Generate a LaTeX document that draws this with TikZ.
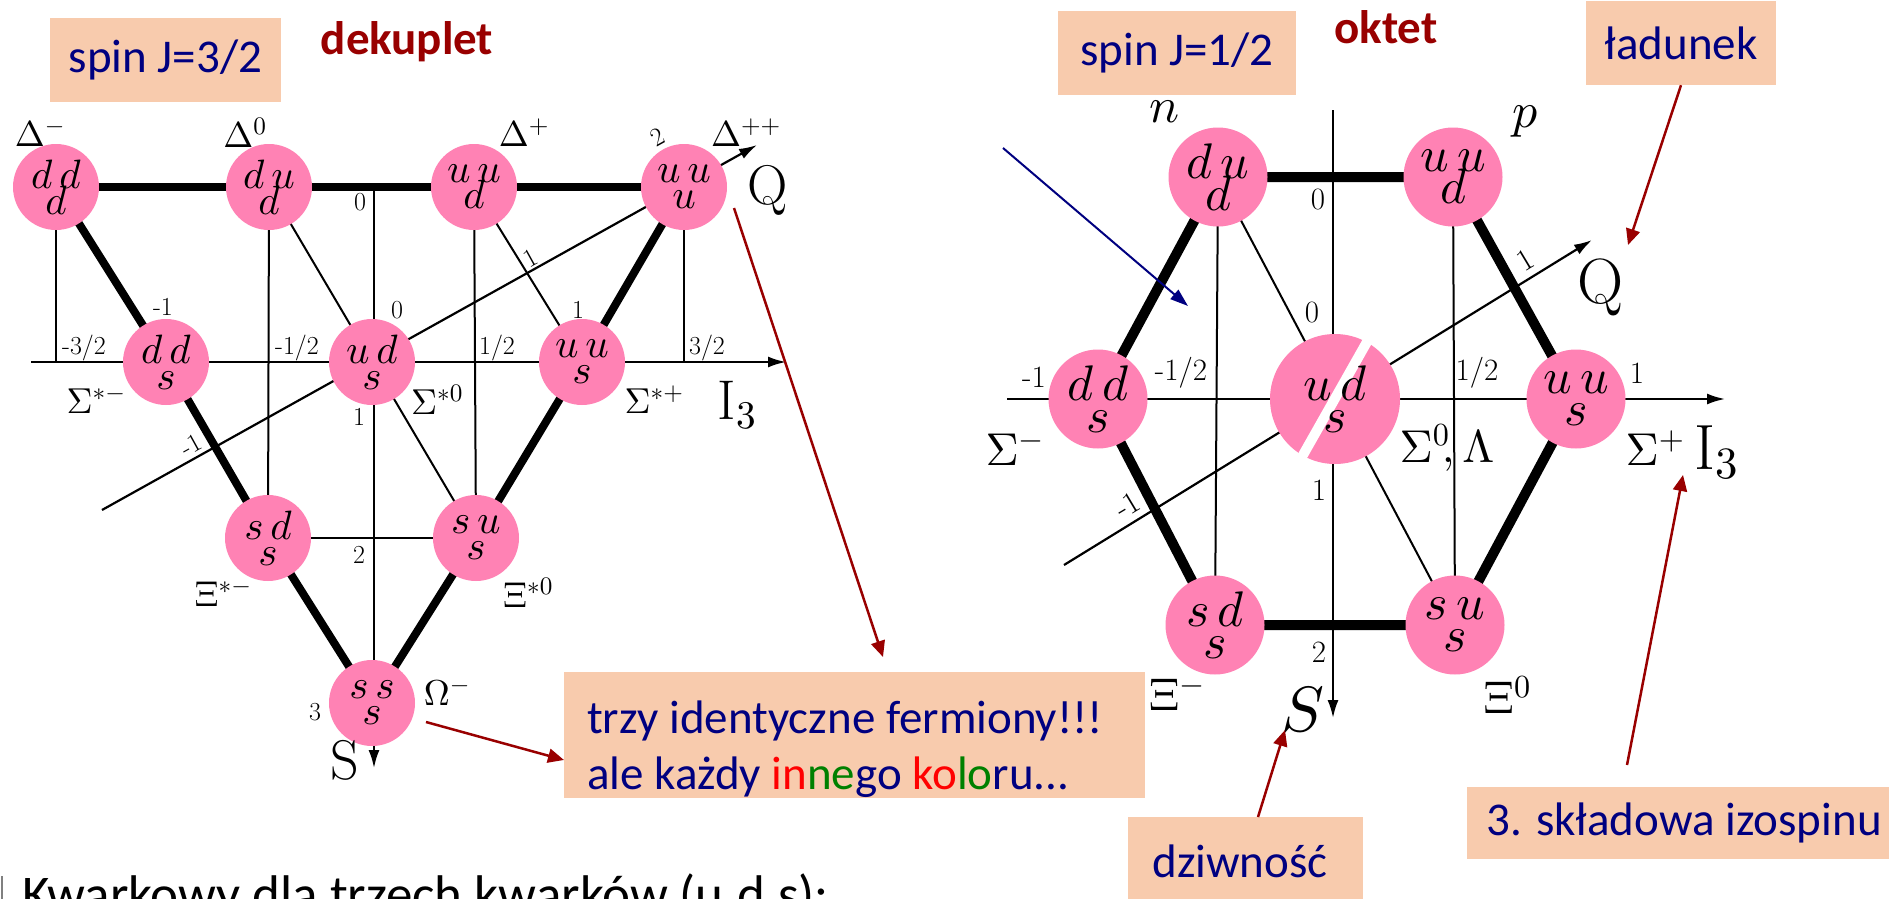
\RequirePackage{fix-cm}
\documentclass[tikz,border=0pt]{standalone}
\usepackage{fontspec}
\DeclareFontFamily{OML}{cmm}{\skewchar\font127 }
\DeclareFontShape{OML}{cmm}{m}{it}{<->cmmi10}{}
\DeclareFontFamily{OT1}{cmr}{\hyphenchar\font45 }
\DeclareFontShape{OT1}{cmr}{m}{n}{<->cmr10}{}
\DeclareFontFamily{OMS}{cmsy}{\skewchar\font48 }
\DeclareFontShape{OMS}{cmsy}{m}{n}{<->cmsy10}{}
\newfontfamily\calib{Carlito}
\usetikzlibrary{arrows.meta}
\definecolor{peach}{HTML}{F8CBAD}
\definecolor{navyt}{HTML}{000080}
\definecolor{dred}{HTML}{990000}
\definecolor{pinkq}{HTML}{FF82B4}
\definecolor{grn}{HTML}{008000}
\pgfdeclarelayer{bg}
\pgfsetlayers{bg,main}
\newcommand\tightlines{\lineskiplimit-50pt\relax}
\begin{document}
\begin{tikzpicture}[x=1pt,y=-1pt,
  dnode/.style={circle, fill=pinkq, minimum size=86pt, inner sep=0pt, align=center,
    font=\fontsize{41}{26}\selectfont\tightlines},
  onode/.style={circle, fill=pinkq, minimum size=99pt, inner sep=0pt, align=center,
    font=\fontsize{50}{32}\selectfont\tightlines},
  thk/.style={line width=8pt},
  othk/.style={line width=10pt},
  thn/.style={line width=2pt},
  ax/.style={line width=2.2pt, -{Latex[length=18pt,width=11pt]}},
  dlab/.style={inner sep=0pt, font=\fontsize{26}{26}\selectfont},
  olab/.style={inner sep=0pt, font=\fontsize{31}{31}\selectfont},
  dname/.style={inner sep=0pt, font=\fontsize{36}{36}\selectfont},
  oname/.style={inner sep=0pt, font=\fontsize{46}{46}\selectfont},
  dbig/.style={inner sep=0pt, font=\fontsize{56}{56}\selectfont},
  obig/.style={inner sep=0pt, font=\fontsize{64}{64}\selectfont},
  box/.style={fill=peach, inner sep=0pt},
  boxtext/.style={inner sep=0pt, text=navyt, font=\calib\fontsize{47}{56}\selectfont},
  title/.style={inner sep=0pt, text=dred, font=\calib\bfseries\fontsize{47}{47}\selectfont},
  redarr/.style={dred, line width=2.5pt, -{Triangle[length=16pt,width=14pt]}},
  bluearr/.style={navyt, line width=2pt, -{Triangle[length=18pt,width=12pt]}}
]
\clip (0,0) rectangle (1889,899);
\begin{pgfonlayer}{bg}
\fill[white] (0,0) rectangle (1889,899);
\end{pgfonlayer}

% ---------------- decuplet nodes ----------------
\node[dnode] (Dm)  at (56,187)  {$d\,d$\\$d$};
\node[dnode] (D0)  at (269,187) {$d\,u$\\$d$};
\node[dnode] (Dp)  at (474,187) {$u\,u$\\$d$};
\node[dnode] (Dpp) at (684,187) {$u\,u$\\$u$};
\node[dnode] (Sm)  at (166,362) {$d\,d$\\$s$};
\node[dnode] (S0)  at (372,362) {$u\,d$\\$s$};
\node[dnode] (Sp)  at (582,362) {$u\,u$\\$s$};
\node[dnode] (Xm)  at (268,538) {$s\,d$\\$s$};
\node[dnode] (X0)  at (476,538) {$s\,u$\\$s$};
\node[dnode] (Om)  at (372,703) {$s\,s$\\$s$};

\coordinate (dI1) at (31,362);  \coordinate (dI2) at (786,362);
\coordinate (dS1) at (374,183); \coordinate (dS2) at (374,768);
\coordinate (dQ1) at (102,510); \coordinate (dQ2) at (757,145);

% ---------------- octet nodes ----------------
\node[onode] (oN)  at (1218,177) {$d\,u$\\$d$};
\node[onode] (oP)  at (1453,177) {$u\,u$\\$d$};
\node[onode] (oSm) at (1098,399) {$d\,d$\\$s$};
\node[onode] (oSp) at (1576,399) {$u\,u$\\$s$};
\node[onode] (oXm) at (1215,625) {$s\,d$\\$s$};
\node[onode] (oX0) at (1455,625) {$s\,u$\\$s$};
\node[onode, minimum size=130pt] (oC) at (1335,399) {};
\draw[white, line width=10pt, line cap=round] (1372,333) -- (1303,455);
\node[onode, fill=none] (oCt) at (oC) {$u\,d$\\$s$};

\coordinate (oI1) at (1007,399);  \coordinate (oI2) at (1725,399);
\coordinate (oS1) at (1333,110);  \coordinate (oS2) at (1333,718);
\coordinate (oQ1) at (1064,565);  \coordinate (oQ2) at (1592,240);

\begin{pgfonlayer}{bg}
% decuplet lines
\draw[thn] (Dm.center) -- (Dm.center |- Sm.center);
\draw[thn] (Dpp.center) -- (Dpp.center |- Sp.center);
\draw[thn] (D0.center) -- (Xm.center);
\draw[thn] (Dp.center) -- (X0.center);
\draw[thn] (D0.center) -- (X0.center);
\draw[thn] (Dp.center) -- (Sp.center);
\draw[thn] (Xm.center) -- (X0.center);
\draw[ax] (dI1) -- (dI2);
\draw[ax] (dS1) -- (dS2);
\draw[ax] (dQ1) -- (dQ2);
\draw[thk] (Dm.center) -- (D0.center) -- (Dp.center) -- (Dpp.center);
\draw[thk, line join=round] (Dm.center) -- (Sm.center) -- (Xm.center) -- (Om.center)
  -- (X0.center) -- (Sp.center) -- (Dpp.center);
% octet lines
\draw[thn] (oN.center) -- (oXm.center);
\draw[thn] (oP.center) -- (oX0.center);
\draw[thn] (oN.center) -- (oX0.center);
\draw[ax] (oI1) -- (oI2);
\draw[ax] (oS1) -- (oS2);
\draw[ax] (oQ1) -- (oQ2);
\draw[othk, line join=round] (oN.center) -- (oP.center) -- (oSp.center) -- (oX0.center)
  -- (oXm.center) -- (oSm.center) -- cycle;
\end{pgfonlayer}

% ---------------- decuplet labels ----------------
\node[dname] (lDm)  at (40,133)  {$\Delta^-$};
\node[dname] (lD0)  at (245,133) {$\Delta^0$};
\node[dname] (lDp)  at (524,133) {$\Delta^+$};
\node[dname] (lDpp) at (746,133) {$\Delta^{++}$};
\node[dname] (lSm)  at (96,400)  {$\Sigma^{*-}$};
\node[dname] (lS0)  at (437,400) {$\Sigma^{*0}$};
\node[dname] (lSp)  at (654,400) {$\Sigma^{*+}$};
\node[dname] (lXm)  at (223,593) {$\Xi^{*-}$};
\node[dname] (lX0)  at (528,593) {$\Xi^{*0}$};
\node[dname] (lOm)  at (447,692) {$\Omega^-$};
\node[dbig] (dQ) at (768,190) {Q};
\node[dbig] (dI) at (737,405) {I$_3$};
\node[dbig] (dS) at (345,760) {S};
\node[dlab] (t1) at (360,202) {0};
\node[dlab] (t2) at (163,307) {-1};
\node[dlab] (t3) at (397,310) {0};
\node[dlab] (t4) at (578,310) {1};
\node[dlab] (t5) at (84,348)  {-3/2};
\node[dlab] (t6) at (297,348) {-1/2};
\node[dlab] (t7) at (497,348) {1/2};
\node[dlab] (t8) at (707,348) {3/2};
\node[dlab] (t9) at (359,417) {1};
\node[dlab] (t10) at (359,555) {2};
\node[dlab] (t11) at (315,712) {3};
\node[dlab, rotate=29] (t12) at (191,445) {-1};
\node[dlab, rotate=29] (t13) at (531,258) {1};
\node[dlab, rotate=29] (t14) at (658,137) {2};

% ---------------- octet labels ----------------
\node[inner sep=0pt, font=\fontsize{50}{50}\selectfont] (ln) at (1164,112) {$n$};
\node[inner sep=0pt, font=\fontsize{50}{50}\selectfont] (lp) at (1525,122) {$p$};
\node[oname] (loSm) at (1015,448) {$\Sigma^-$};
\node[oname] (loC)  at (1447,448) {$\Sigma^0\!,\Lambda$};
\node[oname] (loSp) at (1655,448) {$\Sigma^+$};
\node[oname] (loXm) at (1177,693) {$\Xi^-$};
\node[oname] (loX0) at (1507,695) {$\Xi^0$};
\node[obig] (oQ) at (1601,287) {Q};
\node[obig] (oI) at (1716,452) {I$_3$};
\node[obig] (oS) at (1303,710) {$S$};
\node[olab] (u1) at (1318,200) {0};
\node[olab] (u2) at (1312,312) {0};
\node[olab] (u3) at (1034,377) {-1};
\node[olab] (u4) at (1181,373) {-1/2};
\node[olab] (u5) at (1477,373) {1/2};
\node[olab] (u6) at (1637,373) {1};
\node[olab] (u7) at (1319,490) {1};
\node[olab] (u8) at (1319,652) {2};
\node[olab, rotate=31] (u9) at (1525,260) {1};
\node[olab, rotate=31] (u10) at (1127,505) {-1};

% ---------------- annotation boxes ----------------
\node[box, minimum width=231pt, minimum height=84pt] (spin32) at (165.5,60) {};
\node[boxtext] (spin32t) at (spin32) {spin J=3/2};
\node[title] (dek) at (407,42) {dekuplet};
\node[box, minimum width=238pt, minimum height=84pt] (spin12) at (1177,53) {};
\node[boxtext] (spin12t) at (spin12) {spin J=1/2};
\node[title] (okt) at (1386,27) {oktet};
\node[box, minimum width=190pt, minimum height=84pt] (lad) at (1681,43) {};
\node[boxtext] (ladt) at (lad) {ładunek};
\node[box, minimum width=581pt, minimum height=126pt] (trzy) at (854.5,735) {};
\node[boxtext, anchor=west, align=left] (trzyt) at (587,749)
  {trzy identyczne fermiony!!!\\ale każdy \textcolor{red}{in}\textcolor{grn}{ne}go \textcolor{red}{ko}\textcolor{grn}{lo}ru...};
\node[box, minimum width=235pt, minimum height=88pt] (dz) at (1245.5,861) {};
\node[boxtext] (dzt) at (1240,861) {dziwność};
\node[box, minimum width=433pt, minimum height=72pt] (skl) at (1683.5,823) {};
\node[boxtext, anchor=west] (sklt) at (1486,823) {3. składowa izospinu};
\node[anchor=base west, inner sep=0pt, font=\calib\fontsize{53}{53}\selectfont] (kw) at (22,912) {Kwarkowy dla trzech kwarków (u,d,s):};
\draw[gray, line width=2pt] (1.5,876) -- (1.5,899);

% ---------------- arrows ----------------
\coordinate (a1s) at (734,208); \coordinate (a1e) at (883,657);
\draw[redarr] (a1s) -- (a1e);
\coordinate (a2s) at (426,722); \coordinate (a2e) at (564,760);
\draw[redarr] (a2s) -- (a2e);
\coordinate (b1s) at (1003,148); \coordinate (b1e) at (1188,306);
\draw[bluearr] (b1s) -- (b1e);
\coordinate (a3e) at (1628,245);
\draw[redarr] (lad.south) -- (a3e);
\coordinate (a4s) at (1258,817); \coordinate (a4e) at (1285,730);
\draw[redarr] (a4s) -- (a4e);
\coordinate (a5s) at (1627,765); \coordinate (a5e) at (1683,475);
\draw[redarr] (a5s) -- (a5e);
\end{tikzpicture}
\end{document}
